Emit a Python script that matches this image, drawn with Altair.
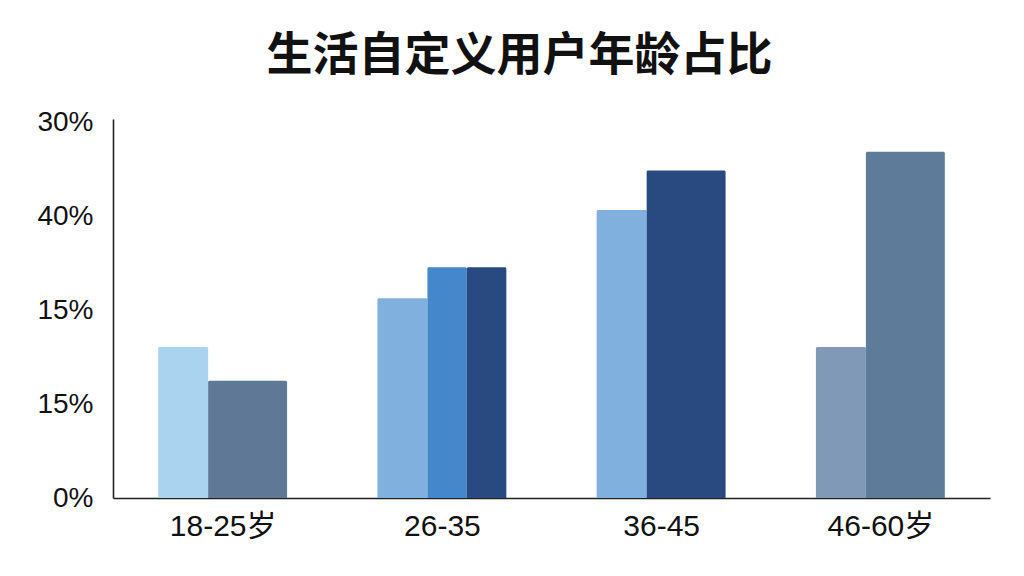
import altair as alt
import pandas as pd

# ---- data ----
title_text = "生活自定义用户年龄占比"
categories = ["18-25岁", "26-35", "36-45", "46-60岁"]
values_18_25 = [16.1, 12.5]
values_26_35 = [21.3, 24.6, 24.6]
values_36_45 = [30.7, 34.9]
values_46_60 = [16.1, 36.9]
y_tick_values = [0, 10, 20, 30, 40]
y_tick_labels = ["0%", "15%", "15%", "40%", "30%"]

# ---- styles ----
colors_18_25 = ["#a9d3ee", "#5e7896"]
colors_26_35 = ["#80b0de", "#4587cb", "#284a80"]
colors_36_45 = ["#80b0de", "#284a80"]
colors_46_60 = ["#8099b6", "#5f7b9a"]
group_span = 0.588      # fraction of category band occupied by a group
first_bar_width = 0.228  # fraction of band for the first (narrow) bar

groups = [values_18_25, values_26_35, values_36_45, values_46_60]
palettes = [colors_18_25, colors_26_35, colors_36_45, colors_46_60]

rows = []
for gi, (vals, cols) in enumerate(zip(groups, palettes)):
    n = len(vals)
    start = gi - group_span / 2
    rest = (group_span - first_bar_width) / (n - 1)
    for j, (v, c) in enumerate(zip(vals, cols)):
        w = first_bar_width if j == 0 else rest
        rows.append({"category": categories[gi], "x0": start, "x1": start + w,
                     "value": v, "color": c})
        start += w
df = pd.DataFrame(rows)

label_font = "Liberation Sans, 'Noto Sans CJK SC', sans-serif"

cat_expr = "[" + ",".join(f"'{c}'" for c in categories) + "][round(datum.value)]"
ylab_expr = "{" + ",".join(f"'{v}':'{l}'" for v, l in zip(y_tick_values, y_tick_labels)) + "}[datum.value]"

chart = alt.Chart(df).mark_bar(cornerRadiusTopLeft=1.5, cornerRadiusTopRight=1.5).encode(
    x=alt.X("x0:Q", scale=alt.Scale(domain=[-0.5, 3.5], nice=False, zero=False),
            axis=alt.Axis(values=[0, 1, 2, 3], labelExpr=cat_expr, title=None,
                          ticks=False, grid=False, labelFontSize=30, labelFont=label_font,
                          labelColor="#111111", labelPadding=13,
                          domainColor="#222222", domainWidth=1.6)),
    x2="x1:Q",
    y=alt.Y("value:Q", scale=alt.Scale(domain=[0, 40.4], nice=False),
            axis=alt.Axis(values=y_tick_values, labelExpr=ylab_expr, title=None,
                          ticks=False, grid=False, labelFontSize=28, labelFont=label_font,
                          labelColor="#111111", labelPadding=20, minExtent=100,
                          domainColor="#222222", domainWidth=1.6)),
    y2=alt.datum(0),
    color=alt.Color("color:N", scale=None),
).properties(
    width=877,
    height=379,
    background="white",
    padding={"top": 24, "left": 5, "right": 5, "bottom": 5},
    title=alt.TitleParams(title_text, fontSize=46, font="Noto Sans CJK SC",
                          fontWeight="bold", color="#111111", anchor="middle",
                          frame="bounds", offset=29, dx=18),
).configure_view(strokeWidth=0, stroke=None)

chart.save("out.html", embed_options={"renderer": "svg", "actions": False})
